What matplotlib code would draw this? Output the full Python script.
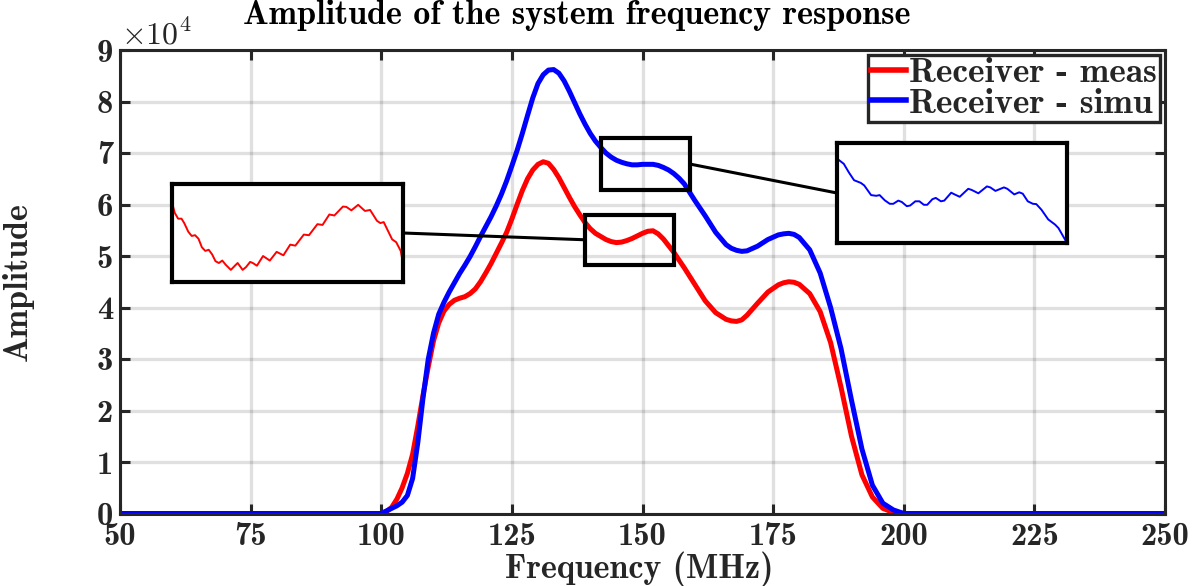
import numpy as np
import matplotlib
matplotlib.use("Agg")
import matplotlib.pyplot as plt
from matplotlib.patches import Rectangle, ConnectionPatch

plt.rcParams['font.family'] = ['cmb10', 'DejaVu Serif']
plt.rcParams['mathtext.fontset'] = 'cm'
plt.rcParams['axes.formatter.use_mathtext'] = True

# frequency (MHz) and amplitude (x1e4)
freq = [50, 100, 101, 102, 103, 104, 105, 106, 107, 108, 109, 110, 111, 112, 113,
        114, 115, 116, 117, 118, 119, 120, 121, 122, 123, 124, 125, 126, 127, 128,
        129, 130, 131, 132, 133, 134, 135, 136, 137, 138, 139, 140, 141, 142, 143,
        144, 145, 146, 147, 148, 149, 150, 151, 152, 153, 154, 155, 156, 157, 158,
        160, 162, 164, 166, 167, 168, 169, 170, 172, 174, 176, 177, 178, 179, 180,
        182, 184, 186, 188, 190, 192, 194, 196, 198, 200, 250]
amp_meas = [0, 0, 0.04, 0.12, 0.28, 0.50, 0.78, 1.15, 1.70, 2.30, 2.85, 3.35, 3.70, 3.93, 4.06,
            4.14, 4.18, 4.21, 4.27, 4.36, 4.50, 4.67, 4.85, 5.05, 5.25, 5.46, 5.72, 6.00, 6.27, 6.50,
            6.67, 6.78, 6.83, 6.80, 6.68, 6.52, 6.33, 6.14, 5.96, 5.80, 5.65, 5.53, 5.44, 5.38, 5.32,
            5.28, 5.26, 5.27, 5.30, 5.34, 5.39, 5.44, 5.48, 5.49, 5.43, 5.33, 5.20, 5.07, 4.92, 4.77,
            4.45, 4.13, 3.90, 3.77, 3.74, 3.73, 3.76, 3.85, 4.08, 4.30, 4.44, 4.48, 4.50, 4.49, 4.45,
            4.27, 3.92, 3.32, 2.45, 1.50, 0.75, 0.32, 0.10, 0.02, 0, 0]
amp_simu = [0, 0, 0.05, 0.10, 0.15, 0.22, 0.35, 0.68, 1.38, 2.25, 3.00, 3.50, 3.87, 4.10, 4.30,
            4.48, 4.66, 4.82, 4.99, 5.18, 5.38, 5.57, 5.76, 5.97, 6.20, 6.46, 6.75, 7.05, 7.38, 7.73,
            8.07, 8.35, 8.52, 8.61, 8.62, 8.55, 8.40, 8.20, 7.98, 7.76, 7.56, 7.38, 7.23, 7.11, 7.00,
            6.92, 6.86, 6.82, 6.79, 6.77, 6.77, 6.78, 6.78, 6.78, 6.76, 6.72, 6.67, 6.60, 6.51, 6.40,
            6.08, 5.78, 5.46, 5.22, 5.15, 5.11, 5.09, 5.10, 5.19, 5.32, 5.41, 5.43, 5.44, 5.42, 5.36,
            5.12, 4.67, 4.00, 3.20, 2.20, 1.25, 0.55, 0.20, 0.07, 0, 0]

# zoomed details (ripple) shown in the insets
zoom_meas_f = [139.0, 139.2, 139.45, 139.7, 139.9, 140.2, 140.45, 140.7, 140.95, 141.2, 141.45,
               141.7, 141.95, 142.2, 142.45, 142.7, 142.95, 143.33, 143.7, 143.83, 144.2, 144.45,
               144.75, 144.95, 145.25, 145.7, 146.2, 146.7, 147.2, 147.7, 148.08, 148.7, 149.08,
               149.7, 150.08, 150.58, 150.95, 151.58, 151.83, 152.2, 152.7, 153.2, 153.58, 154.08,
               154.33, 154.58, 155.2, 155.5, 155.83, 156.0]
zoom_meas_a = [5.650, 5.565, 5.517, 5.517, 5.481, 5.410, 5.376, 5.382, 5.353, 5.283, 5.254,
               5.263, 5.226, 5.170, 5.155, 5.175, 5.141, 5.099, 5.141, 5.155, 5.099, 5.122,
               5.164, 5.155, 5.133, 5.212, 5.175, 5.246, 5.218, 5.305, 5.297, 5.387, 5.382,
               5.472, 5.466, 5.551, 5.543, 5.616, 5.613, 5.585, 5.630, 5.580, 5.588, 5.500,
               5.481, 5.489, 5.348, 5.325, 5.254, 5.155]
zoom_simu_f = [142.0, 142.5, 142.88, 143.26, 143.76, 144.01, 144.52, 144.9, 145.15, 145.53, 145.9,
               146.16, 146.53, 146.79, 147.16, 147.41, 147.79, 148.09, 148.42, 148.67, 149.05,
               149.3, 149.68, 149.93, 150.44, 150.69, 151.07, 151.7, 151.95, 152.45, 153.08,
               153.33, 153.71, 154.34, 154.59, 155.1, 155.47, 155.73, 156.1, 156.48, 156.73,
               157.11, 157.61, 158.12, 158.37, 159.0]
zoom_simu_a = [6.844, 6.792, 6.705, 6.628, 6.601, 6.576, 6.479, 6.472, 6.479, 6.427, 6.392,
               6.392, 6.424, 6.410, 6.368, 6.375, 6.417, 6.417, 6.382, 6.382, 6.438,
               6.451, 6.417, 6.424, 6.503, 6.486, 6.462, 6.542, 6.531, 6.497, 6.566,
               6.556, 6.521, 6.556, 6.542, 6.486, 6.507, 6.493, 6.417, 6.392, 6.389,
               6.333, 6.236, 6.184, 6.149, 6.000]

# zoom windows: (f0, f1, a0, a1)
box_meas = (139.0, 156.0, 4.83, 5.80)
box_simu = (142.1, 159.1, 6.28, 7.29)
inset_meas_lim = (139.0, 156.0, 5.0, 5.8)
inset_simu_lim = (142.0, 159.0, 6.0, 7.0)

xticks = [50, 75, 100, 125, 150, 175, 200, 225, 250]
yticks = list(range(10))

W, H = 1202, 586
fig = plt.figure(figsize=(W / 100, H / 100), dpi=100)
ax = fig.add_axes([120 / W, (H - 513.5) / H, 1045 / W, 463.5 / H])

dark = '#262626'
ax.plot(freq, amp_meas, color='#ff0000', lw=3.6, label='Receiver - meas', zorder=3,
        solid_joinstyle='round')
ax.plot(freq, amp_simu, color='#0000ff', lw=3.6, label='Receiver - simu', zorder=3,
        solid_joinstyle='round')

ax.set_xlim(50, 250)
ax.set_ylim(0, 9)
ax.set_xticks(xticks)
ax.set_yticks(yticks)
ax.set_xticklabels([str(t) for t in xticks])
ax.set_yticklabels([str(t) for t in yticks])
ax.tick_params(direction='in', length=7, width=2.2, color=dark, labelsize=23.5,
               labelcolor=dark, top=True, right=True)
ax.tick_params(axis='x', pad=6)
ax.tick_params(axis='y', pad=5)
ax.grid(True, color='black', alpha=0.12, lw=2.4)
for s in ax.spines.values():
    s.set_color(dark)
    s.set_linewidth(2.2)
    s.set_zorder(5)

leg = ax.legend(loc='upper right', bbox_to_anchor=(0.9952, 0.99), borderaxespad=0,
                fontsize=25.5, handlelength=1.0, handletextpad=0.08, labelspacing=-0.04,
                borderpad=0.08, fancybox=False, framealpha=1, edgecolor=dark)
leg.get_frame().set_linewidth(2.4)
for t in leg.get_texts():
    t.set_color(dark)
for h in leg.get_lines():
    h.set_linewidth(4)

# boxes on the main curves
for b in (box_meas, box_simu):
    ax.add_patch(Rectangle((b[0], b[2]), b[1] - b[0], b[3] - b[2], fill=False,
                           ec='black', lw=3, zorder=6))

# insets
ins_m = fig.add_axes([172 / W, (H - 282) / H, 231 / W, 98 / H])
ins_m.plot(zoom_meas_f, zoom_meas_a, color='#ff0000', lw=1.4)
ins_m.set_xlim(inset_meas_lim[:2])
ins_m.set_ylim(inset_meas_lim[2:])
ins_s = fig.add_axes([837 / W, (H - 243) / H, 230 / W, 100 / H])
ins_s.plot(zoom_simu_f, zoom_simu_a, color='#0000ff', lw=1.4)
ins_s.set_xlim(inset_simu_lim[:2])
ins_s.set_ylim(inset_simu_lim[2:])
for ia in (ins_m, ins_s):
    ia.set_xticks([])
    ia.set_yticks([])
    for s in ia.spines.values():
        s.set_color('black')
        s.set_linewidth(3)

# connector lines
c1 = ConnectionPatch(xyA=(1, 0.5), coordsA=ins_m.transAxes,
                     xyB=(box_meas[0], (box_meas[2] + box_meas[3]) / 2), coordsB=ax.transData,
                     color='black', lw=2.2)
c2 = ConnectionPatch(xyA=(0, 0.5), coordsA=ins_s.transAxes,
                     xyB=(box_simu[1], (box_simu[2] + box_simu[3]) / 2), coordsB=ax.transData,
                     color='black', lw=2.2)
fig.add_artist(c1)
fig.add_artist(c2)

fig.text(577 / W, 1 - 15 / H, 'Amplitude of the system frequency response', ha='center',
         va='center', fontsize=24.5, color='black')
fig.text(639 / W, 1 - 569 / H, 'Frequency (MHz)', ha='center', va='center', fontsize=24.5,
         color=dark)
fig.text(18 / W, 1 - 282 / H, 'Amplitude', ha='center', va='center', rotation=90,
         fontsize=24.5, color=dark)
fig.text(121 / W, 1 - 34 / H, r'$\times10^{4}$', ha='left', va='center', fontsize=23,
         color=dark)

fig.savefig('out.png', dpi=100)
